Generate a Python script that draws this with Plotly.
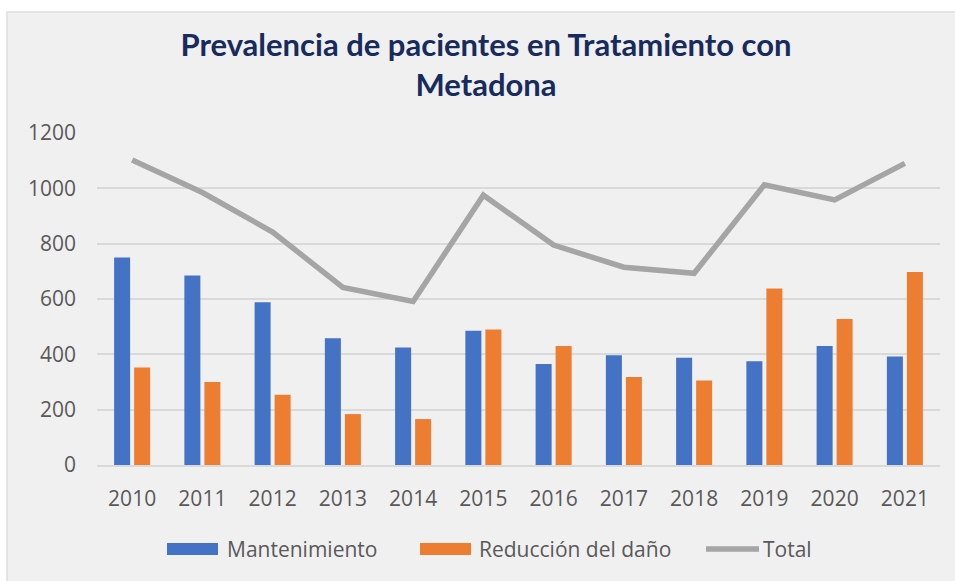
import plotly.graph_objects as go

# Patients in methadone treatment, by year and programme
years = ["2010", "2011", "2012", "2013", "2014", "2015",
         "2016", "2017", "2018", "2019", "2020", "2021"]
mantenimiento = [750, 685, 588, 458, 425, 485, 365, 397, 388, 375, 430, 392]
reduccion_dano = [352, 300, 254, 184, 166, 490, 430, 318, 305, 638, 528, 698]
total = [1102, 985, 842, 642, 591, 975, 795, 715, 693, 1013, 958, 1090]

y_ticks = [0, 200, 400, 600, 800, 1000, 1200]

BLUE = "#4472c4"
ORANGE = "#ed7d31"
GREY = "#a5a5a5"
TEXT = "#595959"
GRID = "#d9d9d9"
FONT = "Open Sans, Liberation Sans, sans-serif"

W, H = 955, 581
L, R, T, B = 97, 15, 133, 116
PW, PH = W - L - R, H - T - B


def px(x):
    return (x - L) / PW


def py(y):
    return (H - B - y) / PH


fig = go.Figure()
fig.add_trace(go.Bar(x=years, y=mantenimiento, name="Mantenimiento",
                     marker=dict(color=BLUE, line=dict(width=0)),
                     showlegend=False))
fig.add_trace(go.Bar(x=years, y=reduccion_dano, name="Reducción del daño",
                     marker=dict(color=ORANGE, line=dict(width=0)),
                     showlegend=False))
fig.add_trace(go.Scatter(x=years, y=total, name="Total", mode="lines",
                         line=dict(color=GREY, width=5.5),
                         showlegend=False))

shapes = [
    # chart panel
    dict(type="rect", xref="paper", yref="paper", layer="below",
         x0=px(7), x1=px(W + 5), y0=py(H + 5), y1=py(12),
         fillcolor="#f0f0f0", line=dict(color="#dedede", width=1.5)),
]

# legend: swatches drawn as shapes, labels as text
legend_items = [
    ("bar", BLUE, 167, 218, "Mantenimiento", 225),
    ("bar", ORANGE, 420, 471, "Reducción del daño", 477),
    ("line", GREY, 706, 759, "Total", 761),
]
annotations = []
ly = 549
for kind, color, x0, x1, label, tx in legend_items:
    if kind == "bar":
        shapes.append(dict(type="rect", xref="paper", yref="paper",
                           x0=px(x0), x1=px(x1), y0=py(ly + 6), y1=py(ly - 6),
                           fillcolor=color, line=dict(width=0)))
    else:
        shapes.append(dict(type="line", xref="paper", yref="paper",
                           x0=px(x0), x1=px(x1), y0=py(ly), y1=py(ly),
                           line=dict(color=color, width=5.5)))
    annotations.append(dict(xref="paper", yref="paper", x=px(tx), y=py(ly),
                            xanchor="left", yanchor="middle", showarrow=False,
                            text=label, font=dict(family=FONT, size=21, color=TEXT)))

fig.update_layout(
    width=W, height=H,
    margin=dict(l=L, r=R, t=T, b=B, pad=0),
    paper_bgcolor="white",
    plot_bgcolor="rgba(0,0,0,0)",
    barmode="group",
    bargap=0.43,
    bargroupgap=0.2,
    title=dict(
        text="Prevalencia de pacientes en Tratamiento con<br>Metadona",
        x=486 / W, xref="container", xanchor="center",
        y=1 - 56 / H, yref="container", yanchor="top",
        font=dict(family="Lato, Open Sans, sans-serif", size=31,
                  color="#172b5e", weight="bold"),
    ),
    xaxis=dict(
        type="category",
        showgrid=False,
        showline=True, linecolor=GRID, linewidth=1.5,
        ticks="", ticklabelstandoff=14,
        tickfont=dict(family=FONT, size=21, color=TEXT),
    ),
    yaxis=dict(
        range=[0, 1200],
        tickvals=y_ticks,
        showgrid=True, gridcolor=GRID, gridwidth=1.5,
        zeroline=False, showline=False,
        ticks="", ticklabelstandoff=20,
        tickfont=dict(family=FONT, size=21, color=TEXT),
    ),
    shapes=shapes,
    annotations=annotations,
)

fig.write_html("out.html")
